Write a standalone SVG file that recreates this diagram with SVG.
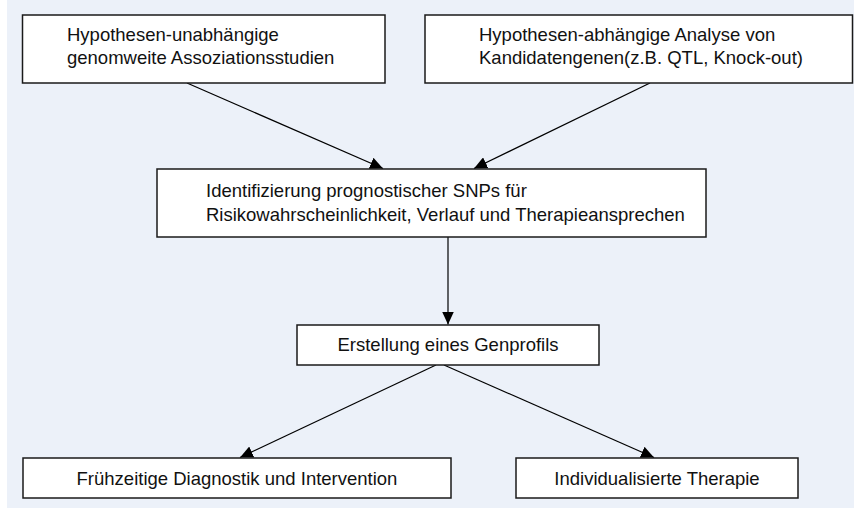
<svg xmlns="http://www.w3.org/2000/svg" width="854" height="509" viewBox="0 0 854 509">
  <style>
    .box { fill: #ffffff; stroke: #1a1a1a; stroke-width: 1.5; }
    .t { font-family: "Liberation Sans", Arial, sans-serif; font-size: 18.5px; fill: #111111; }
    .c { text-anchor: middle; }
    .edge { stroke: #000000; stroke-width: 1.2; fill: none; marker-end: url(#arr); }
  </style>
  <defs>
    <marker id="arr" markerUnits="userSpaceOnUse" markerWidth="14" markerHeight="12" refX="13" refY="6" orient="auto">
      <path d="M0,0 L13,6 L0,12 Z" fill="#000000"/>
    </marker>
  </defs>
  <rect x="0" y="0" width="854" height="509" fill="#ffffff"/>
  <rect x="7" y="0" width="847" height="508" fill="#ecf1f9"/>

  <g id="connectors">
    <line class="edge" x1="187" y1="83" x2="383" y2="168.5"/>
    <line class="edge" x1="650" y1="83" x2="474" y2="168.5"/>
    <line class="edge" x1="448" y1="237" x2="448" y2="324.5"/>
    <line class="edge" x1="436" y1="365" x2="240" y2="457.5"/>
    <line class="edge" x1="444" y1="365" x2="654" y2="457.5"/>
  </g>

  <g id="n1">
    <rect class="box" x="22.5" y="15" width="362.5" height="68"/>
    <text class="t" x="67" y="40.5">Hypothesen-unabhängige</text>
    <text class="t" x="67" y="63.5">genomweite Assoziationsstudien</text>
  </g>
  <g id="n2">
    <rect class="box" x="425" y="15" width="427.5" height="68"/>
    <text class="t" x="479" y="40.5">Hypothesen-abhängige Analyse von</text>
    <text class="t" x="479" y="63.5">Kandidatengenen(z.B. QTL, Knock-out)</text>
  </g>
  <g id="n3">
    <rect class="box" x="157" y="169" width="549" height="68"/>
    <text class="t" x="206" y="196.5">Identifizierung prognostischer SNPs für</text>
    <text class="t" x="206" y="220.5">Risikowahrscheinlichkeit, Verlauf und Therapieansprechen</text>
  </g>
  <g id="n4">
    <rect class="box" x="297" y="325" width="302" height="40"/>
    <text class="t c" x="448" y="351">Erstellung eines Genprofils</text>
  </g>
  <g id="n5">
    <rect class="box" x="23" y="458" width="428" height="40"/>
    <text class="t c" x="237" y="484.5">Frühzeitige Diagnostik und Intervention</text>
  </g>
  <g id="n6">
    <rect class="box" x="516" y="458" width="282" height="40"/>
    <text class="t c" x="657" y="484.5">Individualisierte Therapie</text>
  </g>
</svg>
